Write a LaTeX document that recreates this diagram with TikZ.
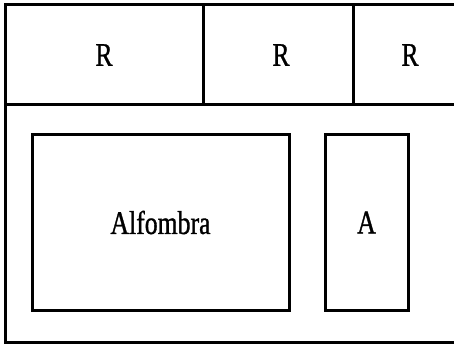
\documentclass[tikz,border=0pt]{standalone}
\usepackage{fontspec}
\setmainfont[FakeStretch=0.78,FakeBold=1]{Liberation Serif}
\tikzset{
  muro/.style={draw, line width=3pt, inner sep=0pt},
  rotulo/.style={font=\fontsize{33}{33}\selectfont}
}

\begin{document}
\begin{tikzpicture}[x=1pt, y=-1pt]
		\useasboundingbox (0,0) rectangle (454,344);
		% frame of the room
		\node[muro, minimum width=455pt, minimum height=337pt] (sala) at (232.5,173.5) {};
		% top row
		\node[muro, rotulo, minimum width=198pt, minimum height=100pt] (r1) at (104,55) {R};
		\node[muro, rotulo, minimum width=150pt, minimum height=100pt] (r2) at (278,55) {\hspace*{6pt}R};
		\node[muro, rotulo, minimum width=114pt, minimum height=100pt] (r3) at (410,55) {R};
		% furniture
		\node[muro, rotulo, minimum width=257pt, minimum height=175pt] (alfombra) at (160.5,222.5) {Alfombra};
		\node[muro, rotulo, minimum width=83pt, minimum height=175pt] (a) at (366.5,222.5) {A};
	\end{tikzpicture}
\end{document}
